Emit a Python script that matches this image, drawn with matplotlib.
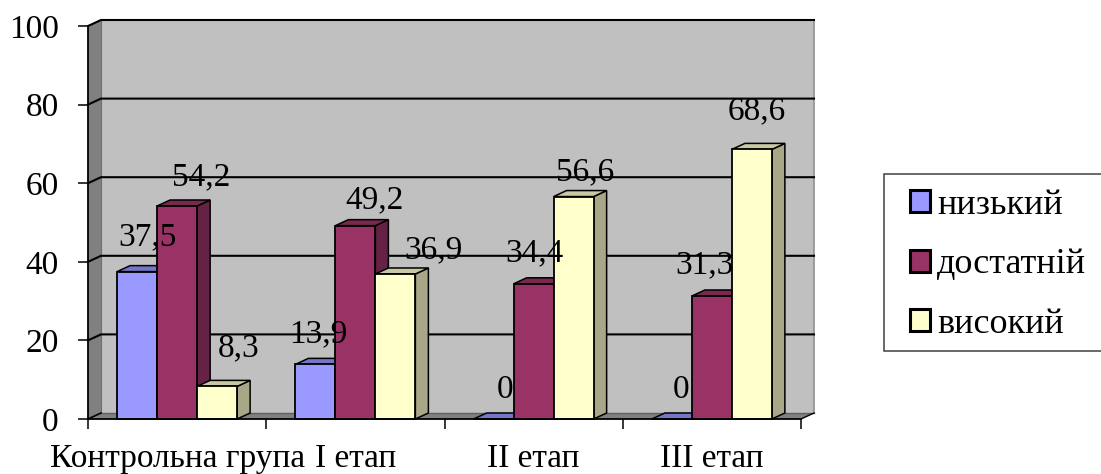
import matplotlib
matplotlib.use("Agg")
import matplotlib.pyplot as plt
import numpy as np
from matplotlib.patches import Patch, Rectangle

plt.rcParams['font.family'] = ['Liberation Serif', 'DejaVu Serif']

categories = ['Контрольна група', 'I етап', 'II етап', 'III етап']
series_names = ['низький', 'достатній', 'високий']
nyzkyi = [37.5, 13.9, 0, 0]
dostatnii = [54.2, 49.2, 34.4, 31.3]
vysokyi = [8.3, 36.9, 56.6, 68.6]
value_labels = [['37,5', '13,9', '0', '0'],
                ['54,2', '49,2', '34,4', '31,3'],
                ['8,3', '36,9', '56,6', '68,6']]

# label nudges in pixels from the bar top centre, the original labels are not regular
label_dx = [[10, 3, 11, 9], [24, 19, 1, -7], [21, 38, 12, 5]]
label_dy = [[35, 30, 29, 29], [29, 26, 31, 31], [38, 24, 25, 38]]

front_colors = ['#9999ff', '#993366', '#ffffcc']
side_colors = ['#6666aa', '#662244', '#a8a888']
top_colors = ['#7676c8', '#7a2850', '#c8c8a4']

W, H = 1101, 474
LEFT, RIGHT, BOTTOM, TOP = 88, 801, 419, 26
FS = 24

fig = plt.figure(figsize=(W / 100, H / 100), dpi=100)
ax = fig.add_axes([LEFT / W, 1 - BOTTOM / H, (RIGHT - LEFT) / W, (BOTTOM - TOP) / H])
ax.set_xlim(0, 4)
ax.set_ylim(0, 100)
ax.patch.set_visible(False)

# 3d depth of the chart box in data units
dx = 13 / ((RIGHT - LEFT) / 4)
dy = 6 / ((BOTTOM - TOP) / 100)
bar_w = 40 / ((RIGHT - LEFT) / 4)


def face(xs, ys, color, z):
    ax.fill(xs, ys, facecolor=color, edgecolor='black', linewidth=1.1, zorder=z, clip_on=False)


# walls and floor
ax.fill([0, dx, dx, 0], [0, dy, 100 + dy, 100], facecolor='#808080', edgecolor='none', zorder=1, clip_on=False)
ax.fill([dx, 4 + dx, 4 + dx, dx], [dy, dy, 100 + dy, 100 + dy], facecolor='#c0c0c0', edgecolor='none', zorder=1, clip_on=False)
ax.fill([0, 4, 4 + dx, dx], [0, 0, dy, dy], facecolor='#808080', edgecolor='none', zorder=1, clip_on=False)
ax.plot([4 + dx, 4 + dx], [dy, 100 + dy], color='#909090', lw=1.2, zorder=1.5, clip_on=False)
ax.plot([dx, 4 + dx], [dy, dy], color='#606060', lw=1, zorder=1.5, clip_on=False)
ax.plot([4, 4 + dx], [0, dy], color='black', lw=1, zorder=1.5, clip_on=False)
ax.plot([dx, dx], [dy, 100 + dy], color='#707070', lw=0.8, zorder=1.5, clip_on=False)

for y in [20, 40, 60, 80, 100]:
    ax.plot([0, dx, 4 + dx], [y, y + dy, y + dy], color='black', lw=1.5, zorder=2, clip_on=False)
ax.plot([0, dx], [0, dy], color='black', lw=1.2, zorder=2, clip_on=False)

# bars, left to right so the next bar covers the side of the previous one
series = [nyzkyi, dostatnii, vysokyi]
z = 3
for g in range(len(categories)):
    for s in range(len(series)):
        val = series[s][g]
        x0 = g + 0.5 + (s - 1.5) * bar_w
        x1 = x0 + bar_w
        face([x1, x1 + dx, x1 + dx, x1], [0, dy, val + dy, val], side_colors[s], z)
        face([x0, x1, x1 + dx, x0 + dx], [val, val, val + dy, val + dy], top_colors[s], z)
        ax.bar(x0, val, width=bar_w, align='edge', color=front_colors[s], edgecolor='black',
               linewidth=1.3, zorder=z + 0.1, clip_on=False)
        z += 1

for s in range(len(series)):
    for g in range(len(categories)):
        xc = g + 0.5 + (s - 1) * bar_w
        ax.annotate(value_labels[s][g], (xc, series[s][g]),
                    xytext=(label_dx[s][g] * 0.72, label_dy[s][g] * 0.72),
                    textcoords='offset points', ha='center', va='center',
                    fontsize=FS, color='black', zorder=50, annotation_clip=False)

for side in ['top', 'right']:
    ax.spines[side].set_visible(False)
for side in ['left', 'bottom']:
    ax.spines[side].set_linewidth(1.3)
    ax.spines[side].set_zorder(40)

ax.set_yticks([0, 20, 40, 60, 80, 100])
ax.set_xticks([0, 1, 2, 3, 4])
ax.set_xticklabels([])
ax.set_xticks([0.5, 1.5, 2.5, 3.5], labels=categories, minor=True)
ax.tick_params(axis='y', length=7.2, width=1.1, pad=14, labelsize=FS)
ax.tick_params(axis='x', which='major', length=7.2, width=1.1)
ax.tick_params(axis='x', which='minor', length=0, pad=17.5, labelsize=FS)

handles = [Patch(facecolor=c, edgecolor='black', linewidth=2.2) for c in front_colors]
leg = fig.legend(handles, series_names, loc='center left', bbox_to_anchor=(910 / W, 1 - 265 / H),
                 bbox_transform=fig.transFigure, fontsize=26, frameon=False, handlelength=0.55,
                 handleheight=0.55, handletextpad=0.2, labelspacing=0.73, borderpad=0, borderaxespad=0)
leg.set_zorder(60)
# legend frame runs off the right side of the picture
fig.add_artist(Rectangle((884 / W, 1 - 351 / H), 230 / W, 177 / H, transform=fig.transFigure,
                         facecolor='white', edgecolor='#404040', linewidth=1.1, zorder=0))

fig.savefig('out.png', dpi=100)
